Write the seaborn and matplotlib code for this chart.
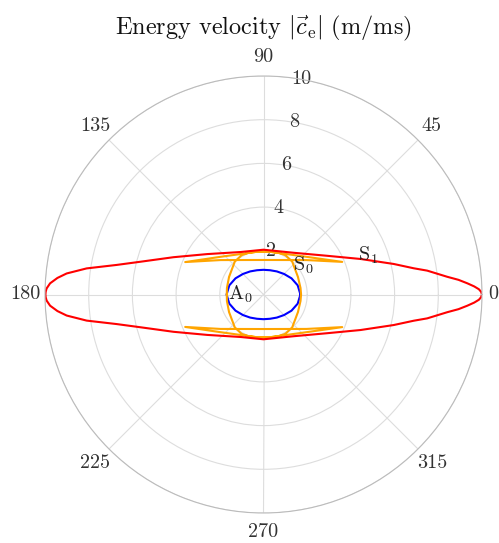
import numpy as np
import pandas as pd
import matplotlib
matplotlib.use("Agg")
import matplotlib.pyplot as plt
import seaborn as sns

# ---- data (upper half, degrees / m/ms); curves are symmetric about 0-180 axis ----
s1_theta = [0, 0.7, 1.4, 2.2, 3.15, 4.3, 5.5, 8.3, 9.9, 13.2, 20.1, 31.3, 54, 90, 118.4, 144.3, 157.5, 165.1, 168.6, 171.6, 173.9, 175.4, 177.0, 178.4, 179.3, 180]
s1_r = [10.0, 9.96, 9.86, 9.65, 9.34, 8.95, 8.45, 7.57, 6.98, 6.12, 4.73, 3.41, 2.36, 2.05, 2.21, 3.17, 4.46, 5.83, 6.85, 8.18, 9.06, 9.46, 9.78, 9.93, 9.97, 9.98]

s0_theta = [180, 170, 153, 131, 119, 110, 100, 90, 80, 40.4, 22.5, 38.7, 90, 141.3, 157.5, 139.6, 100, 90, 80, 70, 61, 49, 27, 10, 0]
s0_r = [1.68, 1.70, 1.77, 2.0, 2.06, 2.03, 1.98, 1.97, 1.98, 2.65, 3.9, 2.52, 1.58, 2.52, 3.88, 2.65, 1.98, 1.97, 1.98, 2.03, 2.06, 2.0, 1.77, 1.72, 1.72]

a0_theta = [0, 15, 30, 45, 60, 75, 90, 105, 120, 135, 150, 165, 180]
a0_r = [1.69, 1.62, 1.48, 1.33, 1.22, 1.15, 1.13, 1.15, 1.22, 1.33, 1.48, 1.62, 1.69]

mode_names = ["A$_0$", "S$_0$", "S$_1$"]
mode_colors = ["#0000ff", "#ffa500", "#ff0000"]
angle_ticks = [0, 45, 90, 135, 180, 225, 270, 315]
r_ticks = [2, 4, 6, 8, 10]


def full_curve(th, r):
    th = list(th)
    r = list(r)
    th_full = th + [360 - t for t in th[::-1]]
    r_full = r + r[::-1]
    return np.deg2rad(th_full), np.array(r_full)


sns.set_theme(style="white")
plt.rcParams["font.family"] = "serif"
plt.rcParams["font.serif"] = ["cmr10", "DejaVu Serif"]
plt.rcParams["mathtext.fontset"] = "cm"
plt.rcParams["axes.unicode_minus"] = False
plt.rcParams["axes.formatter.use_mathtext"] = True

W, H = 499, 543
fig = plt.figure(figsize=(W / 100, H / 100), dpi=100)
ax = fig.add_axes([45 / W, 30 / H, 437 / W, 437 / H], projection="polar")

for (th, r), col in zip([full_curve(a0_theta, a0_r), full_curve(s0_theta, s0_r), full_curve(s1_theta, s1_r)], mode_colors):
    df = pd.DataFrame({"theta": th, "r": r})
    sns.lineplot(data=df, x="theta", y="r", sort=False, estimator=None, ax=ax, color=col, lw=1.5)

ax.set_ylim(0, 10)
ax.set_yticks(r_ticks)
ax.set_yticklabels([str(v) for v in r_ticks], fontsize=14.5, color="#333333")
ax.set_rlabel_position(80)
ax.tick_params(axis="y", pad=0)
for lbl in ax.get_yticklabels():
    lbl.set_ha("center")
    lbl.set_va("center")

# theta tick labels; the "0" label is placed beside the outer circle so it fits
theta_labels = ["" if a == 0 else str(a) for a in angle_ticks]
ax.set_thetagrids(angle_ticks, labels=theta_labels, fontsize=14.5, color="#333333")
ax.annotate(str(angle_ticks[0]), xy=(0, 10), xytext=(6, 0), textcoords="offset pixels",
            ha="left", va="center", fontsize=14.5, color="#333333", annotation_clip=False)
ax.tick_params(axis="x", pad=1)
ax.set_xlabel("")
ax.set_ylabel("")
ax.grid(True, color="#dddddd", lw=0.8)
ax.spines["polar"].set_color("#bbbbbb")
ax.spines["polar"].set_linewidth(0.8)

ax.text(np.deg2rad(180), 1.63, mode_names[0], ha="left", va="center", fontsize=14.5, color="#222222")
ax.text(np.deg2rad(45), 1.91, mode_names[1], ha="left", va="center", fontsize=14.5, color="#222222")
ax.text(np.deg2rad(22.7), 4.69, mode_names[2], ha="left", va="center", fontsize=14.5, color="#222222")

fig.text(263 / W, 1 - 28 / H, r"Energy velocity $|\vec{c}_\mathrm{e}|$ (m/ms)", ha="center", va="center", fontsize=17.5, color="#111111")

fig.savefig("out.png", dpi=100)
